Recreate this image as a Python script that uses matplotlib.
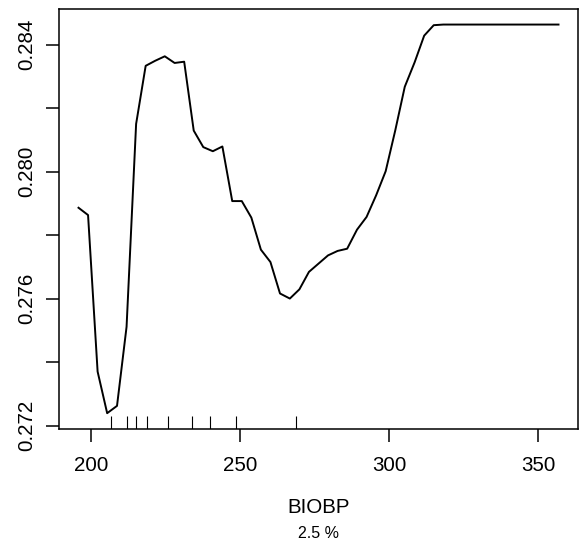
import numpy as np
import matplotlib
matplotlib.use("Agg")
import matplotlib.pyplot as plt

plt.rcParams['font.family'] = ['Liberation Sans', 'DejaVu Sans']

# partial dependence of BIOBP (grid values)
biobp = [195.9, 199.1, 202.3, 205.5, 208.8, 212.0, 215.2, 218.4, 221.6, 224.8,
         228.1, 231.3, 234.5, 237.7, 240.9, 244.1, 247.4, 250.6, 253.8, 257.0,
         260.2, 263.4, 266.7, 269.9, 273.1, 276.3, 279.5, 282.7, 285.9, 289.2,
         292.4, 295.6, 298.8, 302.0, 305.2, 308.5, 311.7, 314.9, 318.1, 321.3,
         324.5, 327.8, 331.0, 334.2, 337.4, 340.6, 343.8, 347.1, 350.3, 353.5,
         356.7]
yhat = [0.27886, 0.27863, 0.27370, 0.27239, 0.27262, 0.27511, 0.28150, 0.28333, 0.28349, 0.28363,
        0.28342, 0.28346, 0.28129, 0.28077, 0.28064, 0.28079, 0.27907, 0.27907, 0.27855, 0.27754,
        0.27715, 0.27616, 0.27600, 0.27629, 0.27684, 0.27710, 0.27736, 0.27750, 0.27757, 0.27817,
        0.27857, 0.27925, 0.28001, 0.28129, 0.28267, 0.28344, 0.28428, 0.28461, 0.28463, 0.28463,
        0.28463, 0.28463, 0.28463, 0.28463, 0.28463, 0.28463, 0.28463, 0.28463, 0.28463, 0.28463,
        0.28463]

# deciles of the training data (rug)
deciles = [206.8, 212.0, 215.0, 218.9, 226.0, 234.0, 239.9, 248.8, 268.9]

xticks = [200, 250, 300, 350]
yticks = [0.272, 0.274, 0.276, 0.278, 0.280, 0.282, 0.284]
ytick_labels = ['0.272', '', '0.276', '', '0.280', '', '0.284']

fig = plt.figure(figsize=(5.82, 5.46), dpi=100)
ax = fig.add_axes([0.1019, 0.2148, 0.8907, 0.7687])

ax.plot(biobp, yhat, color='black', lw=1.4)
ax.vlines(deciles, 0, 0.03, transform=ax.get_xaxis_transform(), color='black', lw=0.8)

# R style 4% padding
xr = max(biobp) - min(biobp)
yr = max(yhat) - min(yhat)
ax.set_xlim(min(biobp) - 0.04 * xr, max(biobp) + 0.04 * xr)
ax.set_ylim(min(yhat) - 0.04 * yr, max(yhat) + 0.04 * yr)

ax.set_xticks(xticks)
ax.set_yticks(yticks)
ax.set_yticklabels(ytick_labels)
ax.tick_params(axis='both', length=9.4, width=1.1, labelsize=14.8, color='black')
ax.tick_params(axis='x', pad=10)
ax.tick_params(axis='y', pad=7, labelrotation=90)
for lab in ax.get_yticklabels():
    lab.set_va('center')
for s in ax.spines.values():
    s.set_linewidth(1.1)

fig.text(0.5 * (0.1019 + 0.9926), 1 - 513.3 / 546, 'BIOBP', ha='center', va='baseline', fontsize=14.8)
fig.text(0.5 * (0.1019 + 0.9926), 1 - 538.3 / 546, '2.5 %', ha='center', va='baseline', fontsize=11.5)

fig.savefig('out.png', dpi=100)
